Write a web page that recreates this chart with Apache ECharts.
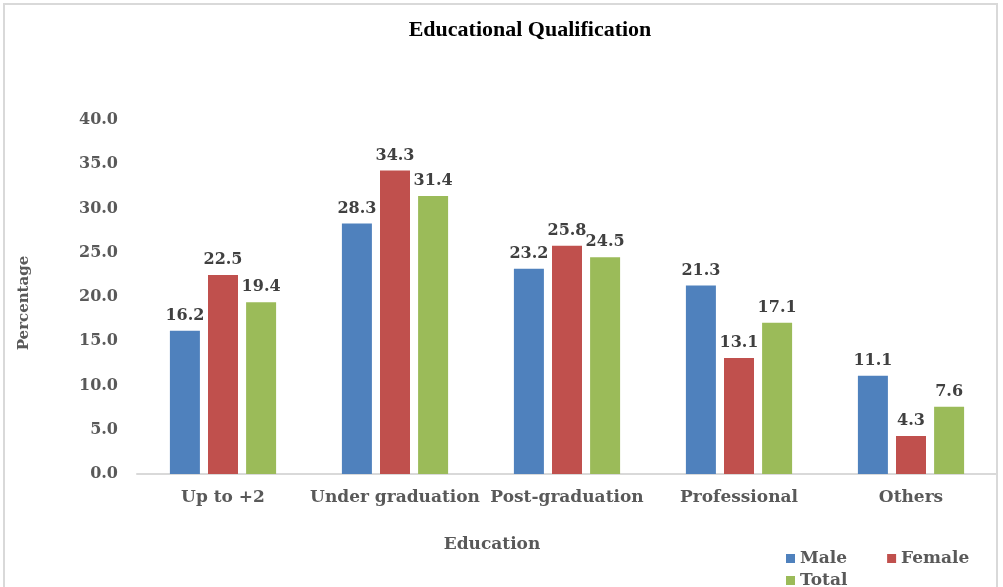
<!DOCTYPE html>
<html>
<head>
<meta charset="utf-8">
<script src="https://cdn.jsdelivr.net/npm/echarts@6/dist/echarts.min.js"></script>
<style>
  html, body { margin: 0; padding: 0; background: #fff; }
  #chart { width: 1003px; height: 587px; }
</style>
</head>
<body>
<div id="chart"></div>
<script>
// categories and values
const categories = ["Up to +2", "Under graduation", "Post-graduation", "Professional", "Others"];
const maleData = [16.2, 28.3, 23.2, 21.3, 11.1];
const femaleData = [22.5, 34.3, 25.8, 13.1, 4.3];
const totalData = [19.4, 31.4, 24.5, 17.1, 7.6];

const titleFont = "'Liberation Serif', serif";
const wideSerif = "'DejaVu Serif', 'Liberation Serif', serif";
const grayText = "#595959";

const myChart = echarts.init(document.getElementById("chart"));

// data label style shared by all series
function barLabel() {
  return {
    show: true,
    position: "top",
    distance: 7,
    color: "#404040",
    fontFamily: wideSerif,
    fontWeight: "bold",
    fontSize: 16,
    formatter: p => p.value.toFixed(1)
  };
}

const legendText = { color: grayText, fontFamily: wideSerif, fontWeight: "bold", fontSize: 17 };

const option = {
  animation: false,
  backgroundColor: "#fff",
  title: {
    text: "Educational Qualification",
    left: 525,
    textAlign: "center",
    top: 14,
    textStyle: {
      color: "#000",
      fontFamily: titleFont,
      fontWeight: "bold",
      fontSize: 22
    }
  },
  graphic: [
    {
      type: "rect",
      shape: { x: 4, y: 4, width: 993, height: 600 },
      style: { fill: "none", stroke: "#d9d9d9", lineWidth: 2 },
      silent: true
    }
  ],
  legend: [
    {
      data: ["Male", "Female"],
      left: 781,
      top: 545,
      itemWidth: 9,
      itemHeight: 9,
      itemGap: 40,
      icon: "rect",
      textStyle: legendText
    },
    {
      data: ["Total"],
      left: 781,
      top: 567,
      itemWidth: 9,
      itemHeight: 9,
      icon: "rect",
      textStyle: legendText
    }
  ],
  grid: {
    left: 137,
    right: 6,
    top: 120,
    bottom: 113
  },
  xAxis: {
    type: "category",
    data: categories,
    name: "Education",
    nameLocation: "middle",
    nameGap: 62,
    nameTextStyle: {
      color: grayText,
      fontFamily: wideSerif,
      fontWeight: "bold",
      fontSize: 17,
      padding: [0, 0, 0, -150]
    },
    axisTick: { show: false },
    axisLine: { lineStyle: { color: "#d9d9d9", width: 2 } },
    axisLabel: {
      interval: 0,
      margin: 15,
      color: grayText,
      fontFamily: wideSerif,
      fontWeight: "bold",
      fontSize: 17
    }
  },
  yAxis: {
    type: "value",
    min: 0,
    max: 40,
    interval: 5,
    name: "Percentage",
    nameLocation: "middle",
    nameGap: 105,
    nameTextStyle: {
      color: grayText,
      fontFamily: wideSerif,
      fontWeight: "bold",
      fontSize: 15,
      padding: [0, 12, 0, 0]
    },
    splitLine: { show: false },
    axisLine: { show: false },
    axisTick: { show: false },
    axisLabel: {
      margin: 19,
      color: grayText,
      fontFamily: wideSerif,
      fontWeight: "bold",
      fontSize: 16,
      formatter: v => v.toFixed(1)
    }
  },
  series: [
    {
      name: "Male",
      type: "bar",
      data: maleData,
      barWidth: 30,
      barGap: "27%",
      itemStyle: { color: "#4F81BD" },
      label: barLabel()
    },
    {
      name: "Female",
      type: "bar",
      data: femaleData,
      barWidth: 30,
      barGap: "27%",
      itemStyle: { color: "#C0504D" },
      label: barLabel()
    },
    {
      name: "Total",
      type: "bar",
      data: totalData,
      barWidth: 30,
      barGap: "27%",
      itemStyle: { color: "#9BBB59" },
      label: barLabel()
    }
  ]
};

myChart.setOption(option);
</script>
</body>
</html>
